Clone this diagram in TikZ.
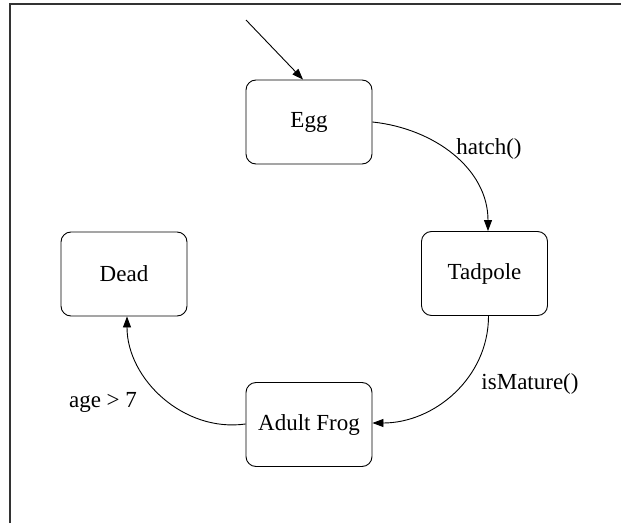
\documentclass[tikz,border=0pt]{standalone}
\usepackage{fontspec}
\setmainfont{Liberation Serif}
\usetikzlibrary{arrows.meta}
\begin{document}
\begin{tikzpicture}[x=1pt,y=1pt,
  state/.style={draw, rounded corners=10pt, minimum width=126pt, minimum height=84pt, line width=0.9pt, inner sep=0pt, font=\fontsize{23}{27}\selectfont},
  lbl/.style={font=\fontsize{23}{27}\selectfont, inner sep=0pt},
  edge/.style={line width=0.9pt, -{Triangle[length=11pt,width=8pt]}},
  frame/.style={line width=1.6pt, draw=black!80}]
\useasboundingbox (0,0) rectangle (621,523);
\coordinate (fl) at (10,0);
\coordinate (ftl) at (10,518.7);
\coordinate (ftr) at (621,518.7);
\draw[frame] (fl) -- (ftl) -- (ftr);
\node[state] (egg) at (309,401) {Egg};
\node[state] (tad) at (484.5,249.5) {Tadpole};
\node[state] (frog) at (309,98.5) {Adult Frog};
\node[state] (dead) at (124,249) {Dead};
\coordinate (init) at (246,503);
\draw[edge] (init) -- ([xshift=-6pt]egg.north);
\draw[edge] (egg.east) to[out=-6,in=90] ([xshift=3.5pt]tad.north);
\draw[edge] ([xshift=4pt]tad.south) to[out=-90,in=0] ([yshift=1.5pt]frog.east);
\draw[edge] ([yshift=0.5pt]frog.west) to[out=188,in=-90] ([xshift=3pt]dead.south);
\node[lbl] (l1) at (489,374) {hatch()};
\node[lbl] (l2) at (530,139) {isMature()};
\node[lbl] (l3) at (103,121) {age > 7};
\end{tikzpicture}
\end{document}
